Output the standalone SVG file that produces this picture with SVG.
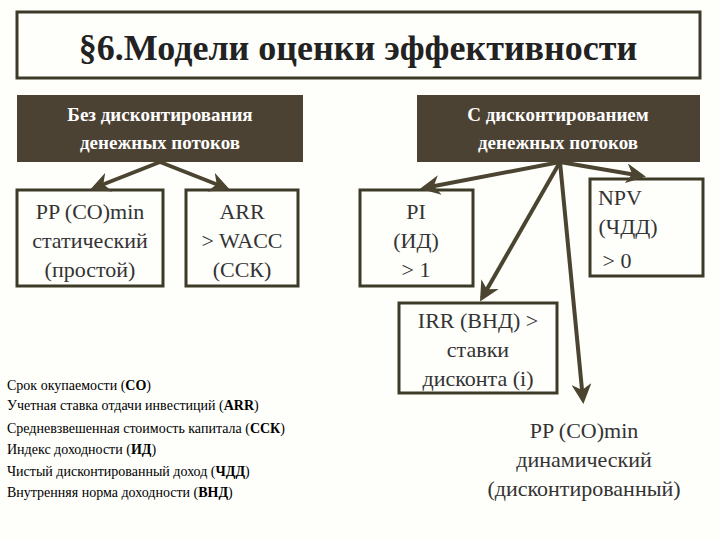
<svg xmlns="http://www.w3.org/2000/svg" width="720" height="540" viewBox="0 0 720 540">
<style>
text{font-family:'Liberation Serif','Times New Roman','DejaVu Serif',serif}
.bx{fill:none;stroke:#3d3a28;stroke-width:3}
.dk{fill:#4c4233}
.t{font-size:22px;fill:#333;text-anchor:middle}
.w{font-size:19px;fill:#fff;text-anchor:middle;font-weight:bold}
.s{font-size:14px;fill:#000}
.c{stroke:#4b4430;stroke-width:4;fill:none;marker-end:url(#a)}
</style>
<defs><marker id="a" markerWidth="5" markerHeight="5" refX="4" refY="2.5" orient="auto"><path d="M0,0 L5,2.5 L0,5 L1.5,2.5Z" fill="#4b4430"/></marker></defs>
<rect width="720" height="540" fill="#fefefb"/>
<g id="title"><rect class="bx" x="17" y="12" width="683" height="66"/><text x="358" y="60" font-size="36" font-weight="bold" fill="#222" text-anchor="middle">§6.Модели оценки эффективности</text></g>
<g id="nodisc"><rect class="dk" x="17" y="95" width="286" height="67"/><text class="w" x="160" y="121">Без дисконтирования</text><text class="w" x="160" y="149">денежных потоков</text></g>
<g id="disc"><rect class="dk" x="417" y="95" width="283" height="67"/><text class="w" x="558" y="121">С дисконтированием</text><text class="w" x="558" y="149">денежных потоков</text></g>
<g id="pp1"><rect class="bx" x="17" y="190" width="146" height="96"/><text class="t" x="90" y="219">PP (CO)min</text><text class="t" x="90" y="248">статический</text><text class="t" x="90" y="277">(простой)</text></g>
<g id="arr"><rect class="bx" x="186" y="190" width="112" height="96"/><text class="t" x="242" y="219">ARR</text><text class="t" x="242" y="248">&gt; WACC</text><text class="t" x="242" y="277">(ССК)</text></g>
<g id="pi"><rect class="bx" x="360" y="190" width="113" height="96"/><text class="t" x="416" y="219">PI</text><text class="t" x="416" y="248">(ИД)</text><text class="t" x="416" y="277">&gt; 1</text></g>
<g id="npv"><rect class="bx" x="590" y="179" width="113" height="97"/><text class="t" x="620" y="205">NPV</text><text class="t" x="628" y="234">(ЧДД)</text><text class="t" x="617" y="268">&gt; 0</text></g>
<g id="irr"><rect class="bx" x="399" y="303" width="158" height="90"/><text class="t" x="478" y="328">IRR (ВНД) &gt;</text><text class="t" x="478" y="357">ставки</text><text class="t" x="478" y="386">дисконта (i)</text></g>
<g id="pp2"><text class="t" x="584" y="438">PP (CO)min</text><text class="t" x="584" y="467">динамический</text><text class="t" x="584" y="496">(дисконтированный)</text></g>
<g id="legend"><text class="s" x="7" y="390">Срок окупаемости (<tspan font-weight="bold">СО</tspan>)</text><text class="s" x="7" y="410">Учетная ставка отдачи инвестиций (<tspan font-weight="bold">ARR</tspan>)</text><text class="s" x="7" y="433">Средневзвешенная стоимость капитала (<tspan font-weight="bold">ССК</tspan>)</text><text class="s" x="7" y="454">Индекс доходности (<tspan font-weight="bold">ИД</tspan>)</text><text class="s" x="7" y="476">Чистый дисконтированный доход (<tspan font-weight="bold">ЧДД</tspan>)</text><text class="s" x="7" y="497">Внутренняя норма доходности (<tspan font-weight="bold">ВНД</tspan>)</text></g>
<g id="connectors">
<path class="c" d="M160,162 L94,188"/>
<path class="c" d="M160,162 L226,188"/>
<path class="c" d="M560,162 L424,188"/>
<path class="c" d="M560,162 L642,176"/>
<path class="c" d="M560,162 L482,298"/>
<path class="c" d="M560,162 L583,400"/>
</g>
</svg>
